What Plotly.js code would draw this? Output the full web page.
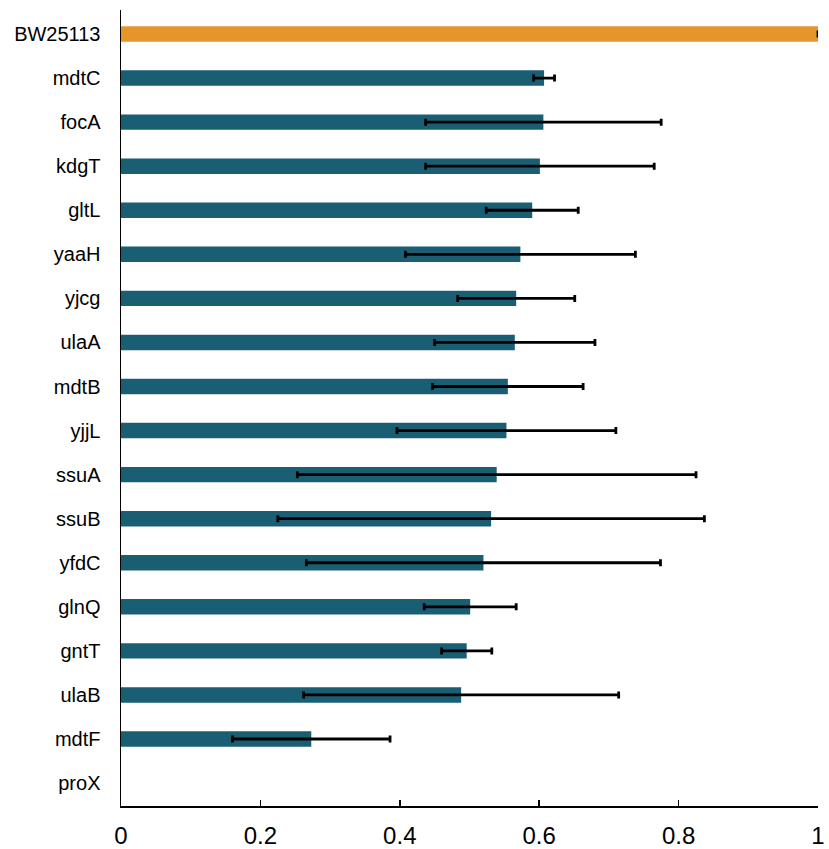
<!DOCTYPE html>
<html>
<head>
<meta charset="utf-8">
<script src="https://cdn.plot.ly/plotly-3.0.1.min.js"></script>
<style>html,body{margin:0;padding:0;background:#fff;}#chart{width:829px;height:849px;}</style>
</head>
<body>
<div id="chart"></div>
<script>
const strains = ["BW25113","mdtC","focA","kdgT","gltL","yaaH","yjcg","ulaA","mdtB","yjjL","ssuA","ssuB","yfdC","glnQ","gntT","ulaB","mdtF","proX"];
const values  = [1.0, 0.607, 0.606, 0.601, 0.590, 0.573, 0.567, 0.565, 0.555, 0.553, 0.539, 0.531, 0.520, 0.501, 0.496, 0.488, 0.273, 0];
const errors  = [0.0, 0.015, 0.169, 0.164, 0.066, 0.165, 0.084, 0.115, 0.108, 0.157, 0.286, 0.306, 0.254, 0.066, 0.036, 0.226, 0.113, NaN];
const xTicks  = [0, 0.2, 0.4, 0.6, 0.8, 1];
const xTickText = ["0", "0.2", "0.4", "0.6", "0.8", "1"];

const colors = strains.map((s, i) => i === 0 ? "#E4962B" : "#1A5E74");

const trace = {
  type: "bar",
  orientation: "h",
  y: strains,
  x: values,
  width: 0.35,
  marker: { color: colors, line: { width: 0 } },
  error_x: { type: "data", array: errors, visible: true, color: "#000", thickness: 2.8, width: 3.5 },
  hoverinfo: "x+y"
};

const layout = {
  width: 829, height: 849,
  margin: { l: 121, r: 11, t: 10, b: 43 },
  paper_bgcolor: "#fff", plot_bgcolor: "#fff",
  showlegend: false,
  font: { family: "Liberation Sans, Arial, sans-serif", color: "#000" },
  xaxis: {
    range: [0, 1],
    tickvals: xTicks, ticktext: xTickText,
    ticks: "inside", ticklen: 6, tickwidth: 1.5, tickcolor: "#000",
    showline: true, linecolor: "#000", linewidth: 1.5,
    showgrid: false, zeroline: false,
    tickfont: { size: 24, family: "Liberation Sans, Arial, sans-serif", color: "#000" },
    ticklabelstandoff: 8
  },
  yaxis: {
    type: "category",
    range: [17.52, -0.545],
    showline: true, linecolor: "#000", linewidth: 1.5,
    ticks: "", showgrid: false, zeroline: false,
    tickfont: { size: 20, family: "Liberation Sans, Arial, sans-serif", color: "#000" },
    ticklabelstandoff: 15
  }
};

Plotly.newPlot("chart", [trace], layout, { displayModeBar: false, staticPlot: true });
</script>
</body>
</html>
